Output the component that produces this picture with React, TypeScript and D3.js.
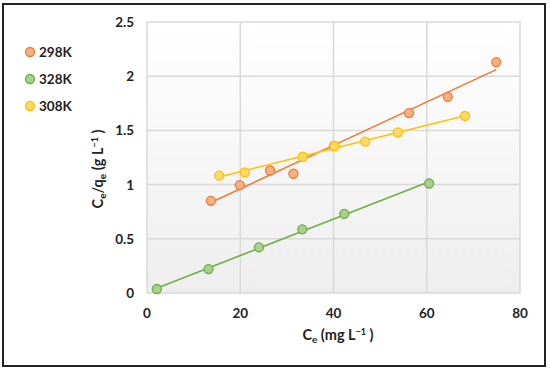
import React from 'react';
import * as d3 from 'd3';

// C_e (mg/L) and C_e/q_e (g/L)
const ce298 = [13.7, 19.9, 26.4, 31.4, 40.1, 56.2, 64.5, 74.9];
const ratio298 = [0.85, 0.996, 1.13, 1.1, 1.356, 1.66, 1.81, 2.13];
const ce328 = [2.1, 13.2, 24.0, 33.3, 42.3, 60.5];
const ratio328 = [0.037, 0.221, 0.42, 0.587, 0.73, 1.01];
const ce308 = [15.5, 21.0, 33.4, 40.2, 46.8, 53.8, 68.2];
const ratio308 = [1.082, 1.113, 1.257, 1.356, 1.396, 1.482, 1.633];

const seriesNames = ['298K', '328K', '308K'];
const xTicks = [0, 20, 40, 60, 80];
const yTicks = [0, 0.5, 1, 1.5, 2, 2.5];

const lineColors = ['#ED7D31', '#70AD47', '#FFC000'];
const fillColors = ['#F4B183', '#A9D18E', '#FFD966'];

const W = 550;
const H = 371;
const FONT = 'Lato, "Open Sans", sans-serif';

// least squares fit, like the spreadsheet's linear trendline
function fit(xs: number[], ys: number[]) {
  const mx = d3.mean(xs) as number;
  const my = d3.mean(ys) as number;
  let sxy = 0;
  let sxx = 0;
  xs.forEach((x, i) => {
    sxy += (x - mx) * (ys[i] - my);
    sxx += (x - mx) * (x - mx);
  });
  const slope = sxy / sxx;
  return (x: number) => my + slope * (x - mx);
}

export default function App() {
  const x = d3.scaleLinear().domain([0, 80]).range([147, 520]);
  const y = d3.scaleLinear().domain([0, 2.5]).range([293, 22]);

  const series = [
    { name: seriesNames[0], xs: ce298, ys: ratio298 },
    { name: seriesNames[1], xs: ce328, ys: ratio328 },
    { name: seriesNames[2], xs: ce308, ys: ratio308 },
  ];

  const line = d3
    .line<number>()
    .x(d => x(d))
    .y(d => y(d));

  return (
    <svg width={W} height={H} style={{ display: 'block', position: 'absolute', left: 0, top: 0 }}>
      <defs>
        <linearGradient id="plotBg" x1="0" y1="0" x2="0" y2="1">
          <stop offset="0" stopColor="#ffffff" />
          <stop offset="1" stopColor="#eeeeee" />
        </linearGradient>
      </defs>
      <rect x={0} y={0} width={W} height={H} fill="#fff" />
      <rect x={3} y={4} width={542} height={362} fill="#fff" stroke="#222" strokeWidth={2} />

      {/* plot area */}
      <rect
        x={x(0)}
        y={y(2.5)}
        width={x(80) - x(0)}
        height={y(0) - y(2.5)}
        fill="url(#plotBg)"
        stroke="#d9d9d9"
        strokeWidth={1.5}
      />
      {xTicks.slice(1, -1).map(t => (
        <line key={'gx' + t} x1={x(t)} x2={x(t)} y1={y(0)} y2={y(2.5)} stroke="#d9d9d9" strokeWidth={1.5} />
      ))}
      {yTicks.slice(1, -1).map(t => (
        <line key={'gy' + t} x1={x(0)} x2={x(80)} y1={y(t)} y2={y(t)} stroke="#d9d9d9" strokeWidth={1.5} />
      ))}

      {/* tick labels */}
      {xTicks.map(t => (
        <text
          key={'tx' + t}
          x={x(t)}
          y={318}
          textAnchor="middle"
          fontFamily={FONT}
          fontWeight="bold"
          fontSize={13.5}
          fill="#222"
        >
          {t}
        </text>
      ))}
      {yTicks.map(t => (
        <text
          key={'ty' + t}
          x={134}
          y={y(t) + 5}
          textAnchor="end"
          fontFamily={FONT}
          fontWeight="bold"
          fontSize={13.5}
          fill="#222"
        >
          {t}
        </text>
      ))}

      {/* trendlines and points */}
      {series.map((s, i) => {
        const f = fit(s.xs, s.ys);
        const x0 = d3.min(s.xs) as number;
        const x1 = d3.max(s.xs) as number;
        return (
          <g key={s.name}>
            <path
              d={
                d3
                  .line<number>()
                  .x(d => x(d))
                  .y(d => y(f(d)))([x0, x1]) || ''
              }
              fill="none"
              stroke={lineColors[i]}
              strokeWidth={1.6}
            />
            {s.xs.map((v, j) => (
              <circle
                key={j}
                cx={x(v)}
                cy={y(s.ys[j])}
                r={4.5}
                fill={fillColors[i]}
                stroke={lineColors[i]}
                strokeWidth={1.3}
              />
            ))}
          </g>
        );
      })}

      {/* legend */}
      {seriesNames.map((n, i) => (
        <g key={'lg' + n} transform={`translate(30,${52 + i * 27})`}>
          <circle r={4.5} fill={fillColors[i]} stroke={lineColors[i]} strokeWidth={1.3} />
          <text x={9} y={5} fontFamily={FONT} fontWeight="bold" fontSize={13.5} fill="#222">
            {n}
          </text>
        </g>
      ))}

      {/* axis titles */}
      <text x={338} y={340} textAnchor="middle" fontFamily={FONT} fontWeight="bold" fontSize={14.5} fill="#222">
        C<tspan fontSize={10} dy={3}>e</tspan>
        <tspan dy={-3}> (mg L</tspan>
        <tspan fontSize={9} dy={-5}>−1</tspan>
        <tspan dy={5}> )</tspan>
      </text>
      <text
        transform="translate(103,169) rotate(-90)"
        textAnchor="middle"
        fontFamily={FONT}
        fontWeight="bold"
        fontSize={14.5}
        fill="#222"
      >
        C<tspan fontSize={10} dy={3}>e</tspan>
        <tspan dy={-3}>/q</tspan>
        <tspan fontSize={10} dy={3}>e</tspan>
        <tspan dy={-3}> (g L</tspan>
        <tspan fontSize={9} dy={-5}>−1</tspan>
        <tspan dy={5}> )</tspan>
      </text>
    </svg>
  );
}
